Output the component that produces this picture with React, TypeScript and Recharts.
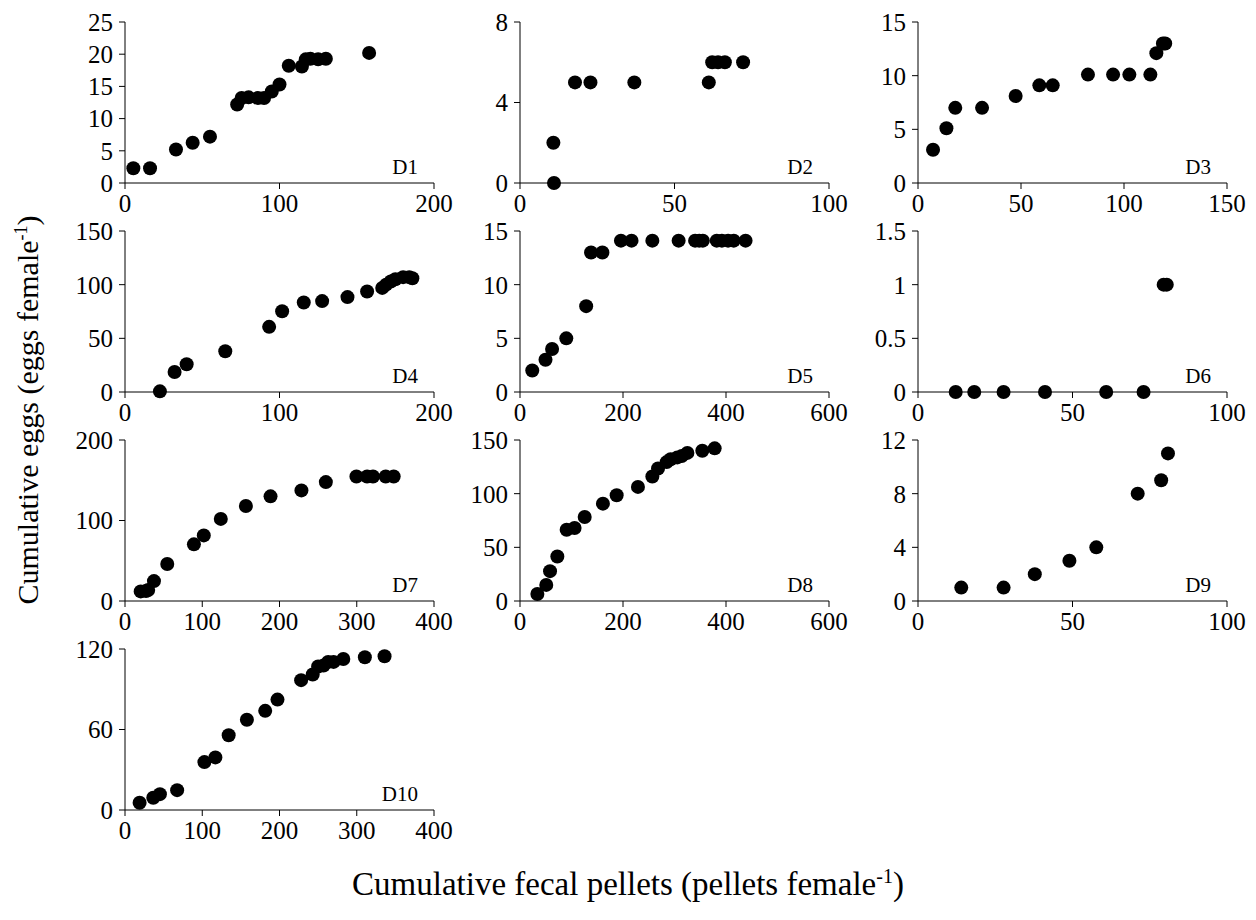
import React from "react";
import { ScatterChart, Scatter, XAxis, YAxis } from "recharts";

// values, one pair of arrays per female
const D1_X = [5.4, 16.2, 33, 43.8, 55, 72.6, 75.5, 80, 86, 90, 95, 100, 106, 114.5, 117, 120, 125, 130, 158];
const D1_Y = [2.3, 2.3, 5.2, 6.25, 7.2, 12.2, 13.2, 13.3, 13.2, 13.2, 14.2, 15.3, 18.2, 18.1, 19.2, 19.3, 19.2, 19.3, 20.2];

const D2_X = [11, 10.8, 17.8, 22.8, 37, 61.1, 62.2, 64.1, 66.3, 72.2];
const D2_Y = [0, 2, 5, 5, 5, 5, 6, 6, 6, 6];

const D3_X = [7.3, 13.8, 18.1, 31.1, 47.4, 58.9, 65.4, 82.5, 94.7, 102.6, 112.8, 115.7, 118.9, 120];
const D3_Y = [3.1, 5.1, 7, 7, 8.1, 9.1, 9.1, 10.1, 10.1, 10.1, 10.1, 12.1, 13, 13];

const D4_X = [22.6, 32.1, 39.9, 64.9, 93.3, 101.7, 115.7, 127.6, 144, 156.7, 166.5, 169, 172, 175, 180, 184, 186];
const D4_Y = [0.6, 18.7, 25.8, 38, 60.7, 75.3, 83.4, 84.7, 88.4, 93.7, 97, 100, 103, 105, 107, 107, 106];

const D5_X = [23.8, 49.5, 62.3, 89.9, 128.5, 138, 160, 196, 216.6, 257, 308, 340, 348, 355, 382, 392, 404, 415, 438];
const D5_Y = [2, 3, 4, 5, 8, 13, 13, 14.1, 14.1, 14.1, 14.1, 14.1, 14.1, 14.1, 14.1, 14.1, 14.1, 14.1, 14.1];

const D6_X = [12.2, 18.2, 27.7, 41.1, 60.9, 73, 79.5, 80.5];
const D6_Y = [0, 0, 0, 0, 0, 0, 1, 1];

const D7_X = [20.3, 27.2, 30, 37.5, 54.7, 89.2, 102, 124, 156.5, 188.4, 228.4, 260, 299.6, 313.4, 321, 337.5, 347.8];
const D7_Y = [11.9, 12.5, 13.6, 24.7, 46, 70.4, 81.5, 102, 118, 130, 137.4, 147.7, 154.7, 154.7, 154.7, 154.7, 154.7];

const D8_X = [33.7, 51, 58.3, 72.5, 90.6, 106, 125.6, 161, 187.7, 229, 257, 268, 284.8, 292.5, 305.5, 314, 325, 354, 378];
const D8_Y = [6.5, 15, 27.8, 41.5, 66.4, 68, 78.3, 90.7, 98.5, 106.3, 116, 123.5, 129.4, 132, 133.8, 135, 138, 140, 142.2];

const D9_X = [14, 27.7, 37.8, 49, 57.7, 71.1, 78.7, 80.9];
const D9_Y = [1, 1, 2, 3, 4, 8, 9, 11];

const D10_X = [18.9, 36.6, 45.2, 67.5, 102.8, 117, 134.2, 157.8, 181.5, 197.4, 228, 243, 250, 257, 263, 270, 282.6, 310.5, 336];
const D10_Y = [5.4, 9.1, 11.8, 14.8, 35.7, 39.2, 55.7, 67.3, 73.9, 82.3, 96.8, 101, 107, 107.7, 110.4, 110.4, 112.6, 113.8, 114.6];

const PANEL_NAMES = ["D1", "D2", "D3", "D4", "D5", "D6", "D7", "D8", "D9", "D10"];
const X_SERIES = [D1_X, D2_X, D3_X, D4_X, D5_X, D6_X, D7_X, D8_X, D9_X, D10_X];
const Y_SERIES = [D1_Y, D2_Y, D3_Y, D4_Y, D5_Y, D6_Y, D7_Y, D8_Y, D9_Y, D10_Y];

const X_TICKS = [
  [0, 100, 200],
  [0, 50, 100],
  [0, 50, 100, 150],
  [0, 100, 200],
  [0, 200, 400, 600],
  [0, 50, 100],
  [0, 100, 200, 300, 400],
  [0, 200, 400, 600],
  [0, 50, 100],
  [0, 100, 200, 300, 400],
];
const Y_TICKS = [
  [0, 5, 10, 15, 20, 25],
  [0, 4, 8],
  [0, 5, 10, 15],
  [0, 50, 100, 150],
  [0, 5, 10, 15],
  [0, 0.5, 1, 1.5],
  [0, 100, 200],
  [0, 50, 100, 150],
  [0, 4, 8, 12],
  [0, 60, 120],
];

const X_TITLE = "Cumulative fecal pellets (pellets female";
const Y_TITLE = "Cumulative eggs (eggs female";

// plot-area boxes (page pixels)
const COL_LEFT = [125, 520, 918];
const ROW_TOP = [22, 231, 440, 649];
const PLOT_W = 309;
const PLOT_H = 161;

const FONT = '"Liberation Serif", serif';
const M = { top: 14, right: 30, bottom: 0, left: 0 };
const Y_W = 60;
const X_H = 42;

const dot = (p: any) => <circle cx={p.cx} cy={p.cy} r={7} fill="#000" />;

function Panel({ i }: { i: number }) {
  const data = X_SERIES[i].map((x, k) => ({ x, y: Y_SERIES[i][k] }));
  const xt = X_TICKS[i];
  const yt = Y_TICKS[i];
  const left = COL_LEFT[i % 3];
  const top = ROW_TOP[Math.floor(i / 3)];
  const tick = { fill: "#000", fontSize: 25, fontFamily: FONT };
  return (
    <div style={{ position: "absolute", left: left - Y_W - M.left, top: top - M.top, fontFamily: FONT }}>
      <ScatterChart width={Y_W + PLOT_W + M.right} height={M.top + PLOT_H + X_H} margin={M}>
        <XAxis
          type="number"
          dataKey="x"
          domain={[0, xt[xt.length - 1]]}
          ticks={xt}
          interval={0}
          height={X_H}
          stroke="#000"
          tick={tick}
          tickSize={6}
          tickMargin={5}
        />
        <YAxis
          type="number"
          dataKey="y"
          domain={[0, yt[yt.length - 1]]}
          ticks={yt}
          interval={0}
          width={Y_W}
          stroke="#000"
          tick={tick}
          tickSize={6}
          tickMargin={6}
        />
        <Scatter data={data} shape={dot} isAnimationActive={false} />
      </ScatterChart>
      <div
        style={{
          position: "absolute",
          left: Y_W + M.left,
          top: M.top + PLOT_H - 27,
          width: PLOT_W - 16,
          textAlign: "right",
          fontSize: 21,
          lineHeight: "22px",
        }}
      >
        {PANEL_NAMES[i]}
      </div>
    </div>
  );
}

export default function App() {
  return (
    <div style={{ position: "absolute", left: 0, top: 0, width: 1256, height: 920, background: "#fff", fontFamily: FONT }}>
      {PANEL_NAMES.map((_, i) => (
        <Panel key={i} i={i} />
      ))}
      <div
        style={{
          position: "absolute",
          left: 28,
          top: 410,
          transform: "translate(-50%, -50%) rotate(-90deg)",
          whiteSpace: "nowrap",
          fontSize: 30,
        }}
      >
        {Y_TITLE}
        <sup style={{ fontSize: 18 }}>-1</sup>)
      </div>
      <div
        style={{
          position: "absolute",
          left: 628,
          top: 884,
          transform: "translate(-50%, -50%)",
          whiteSpace: "nowrap",
          fontSize: 33,
        }}
      >
        {X_TITLE}
        <sup style={{ fontSize: 20 }}>-1</sup>)
      </div>
    </div>
  );
}
